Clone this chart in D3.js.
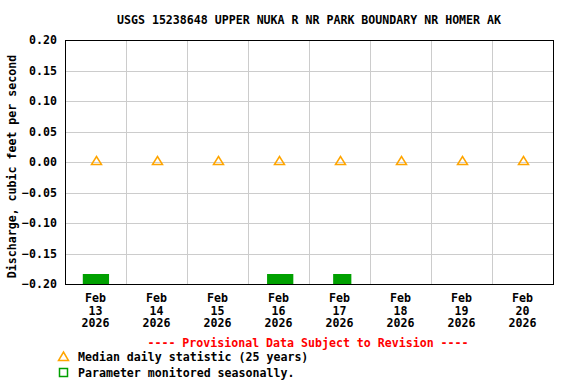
<!DOCTYPE html>
<html><head><meta charset="utf-8">
<script src="https://cdn.jsdelivr.net/npm/d3@7"></script>
<style>
html,body{margin:0;padding:0;background:#fff;}
svg text{font-family:"DejaVu Sans Mono","Liberation Mono",monospace;font-weight:bold;}
</style></head>
<body>
<script>
const title = "USGS 15238648 UPPER NUKA R NR PARK BOUNDARY NR HOMER AK";
const yLabel = "Discharge, cubic feet per second";
const days = ["2026-02-13","2026-02-14","2026-02-15","2026-02-16","2026-02-17","2026-02-18","2026-02-19","2026-02-20"];
const medianValues = [0.00,0.00,0.00,0.00,0.00,0.00,0.00,0.00];
const seasonalStart = ["2026-02-13T07:00","2026-02-16T07:30","2026-02-17T09:30"];
const seasonalEnd   = ["2026-02-13T17:20","2026-02-16T17:50","2026-02-17T16:40"];
const yTicks = [-0.20,-0.15,-0.10,-0.05,0.00,0.05,0.10,0.15,0.20];
const provisional = "---- Provisional Data Subject to Revision ----";
const legendItems = ["Median daily statistic (25 years)","Parameter monitored seasonally."];

const W=576,H=384, L=65, R=553, T=40, B=284;
const parseDay = d3.utcParse("%Y-%m-%d");
const parseTime = d3.utcParse("%Y-%m-%dT%H:%M");
const svg = d3.select("body").append("svg").attr("width",W).attr("height",H);

const x = d3.scaleUtc().domain([parseDay(days[0]), d3.utcDay.offset(parseDay(days[days.length-1]),1)]).range([L,R]);
const y = d3.scaleLinear().domain([-0.2,0.2]).range([B,T]);

// gridlines
const g = svg.append("g");
g.selectAll("line.h").data(yTicks.slice(1,-1)).join("line")
  .attr("x1",L).attr("x2",R).attr("y1",d=>Math.round(y(d))+0.5).attr("y2",d=>Math.round(y(d))+0.5)
  .attr("stroke","#cccccc").attr("stroke-width",1);
g.selectAll("line.v").data(days.slice(1)).join("line")
  .attr("y1",T).attr("y2",B).attr("x1",d=>Math.round(x(parseDay(d)))+0.5).attr("x2",d=>Math.round(x(parseDay(d)))+0.5)
  .attr("stroke","#cccccc").attr("stroke-width",1);

// seasonal bars
svg.selectAll("rect.s").data(seasonalStart.map((s,i)=>[parseTime(s),parseTime(seasonalEnd[i])])).join("rect")
  .attr("x",d=>x(d[0])).attr("width",d=>x(d[1])-x(d[0]))
  .attr("y",B-10).attr("height",10).attr("fill","#00a000");

// median triangles
svg.selectAll("path.m").data(days.map((d,i)=>[d3.utcHour.offset(parseDay(d),12),medianValues[i]])).join("path")
  .attr("d",d=>{const cx=x(d[0])+1, cy=y(d[1]); return `M${cx-5},${cy+2.5}L${cx+5},${cy+2.5}L${cx},${cy-5.5}Z`;})
  .attr("fill","none").attr("stroke","#ffa500").attr("stroke-width",1.5);

// frame
svg.append("rect").attr("x",L+0.5).attr("y",T+0.5).attr("width",R-L).attr("height",B-T)
  .attr("fill","none").attr("stroke","#000").attr("stroke-width",1);

// y axis labels
const yAxis = d3.axisLeft(y).tickValues(yTicks).tickFormat(d3.format(".2f")).tickSize(0).tickPadding(8);
const ya = svg.append("g").attr("transform",`translate(${L},0)`).call(yAxis);
ya.select(".domain").remove();
ya.selectAll("text").attr("font-size","11.6px").attr("fill","#000").attr("font-family","DejaVu Sans Mono").attr("font-weight","bold");

// x axis labels
const fmtMon = d3.utcFormat("%b"), fmtDay = d3.utcFormat("%d"), fmtYr = d3.utcFormat("%Y");
const xa = svg.append("g");
days.forEach(d=>{
  const t = d3.utcHour.offset(parseDay(d),12);
  const cx = x(t);
  const tx = xa.append("text").attr("text-anchor","middle").attr("font-size","11.6px").attr("fill","#000");
  [[fmtMon(t),302],[fmtDay(t),314.5],[fmtYr(t),327]].forEach(([s,yy])=>tx.append("tspan").attr("x",cx).attr("y",yy).text(s));
});

// title
svg.append("text").attr("x",309).attr("y",24).attr("text-anchor","middle").attr("font-size","11.6px")
  .attr("textLength",384).attr("lengthAdjust","spacing").text(title);

// y label
svg.append("text").attr("transform","translate(16,166.5) rotate(-90)").attr("text-anchor","middle")
  .attr("font-size","11.6px").text(yLabel);

// provisional
svg.append("text").attr("x",308).attr("y",347).attr("text-anchor","middle").attr("font-size","11.6px")
  .attr("fill","#ff0000").text(provisional);

// legend
svg.append("path").attr("d","M58.5,360.5L68.5,360.5L63.5,352Z").attr("fill","none").attr("stroke","#ffa500").attr("stroke-width",1.5);
svg.append("text").attr("x",78).attr("y",361).attr("font-size","11.6px").text(legendItems[0]);
svg.append("rect").attr("x",59.5).attr("y",368.5).attr("width",8).attr("height",8).attr("fill","none").attr("stroke","#00a000").attr("stroke-width",1.5);
svg.append("text").attr("x",78).attr("y",377).attr("font-size","11.6px").text(legendItems[1]);
</script>
</body></html>
